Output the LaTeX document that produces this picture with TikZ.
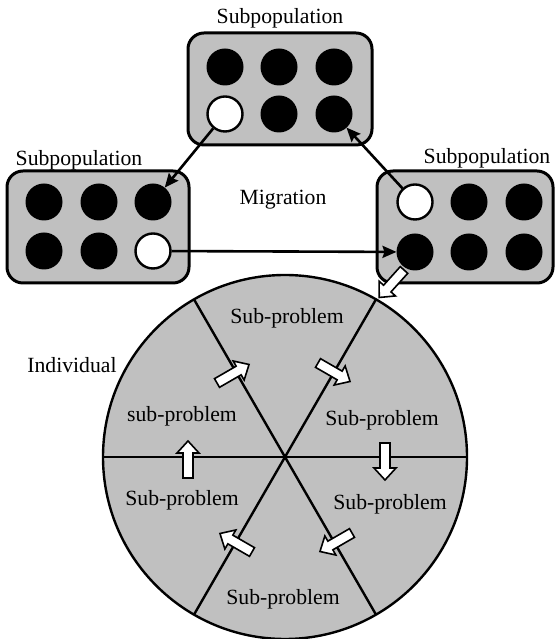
\documentclass[tikz,border=0pt]{standalone}
\usepackage{fontspec}
\setmainfont{Liberation Serif}
\usetikzlibrary{arrows.meta}

\definecolor{panel}{HTML}{C0C0C0}

\tikzset{
  every node/.style={font=\fontsize{21.7}{26}\selectfont},
  box/.style={draw=black, fill=panel, line width=3pt, rounded corners=16pt,
              minimum width=#1, minimum height=112pt, inner sep=0pt, outer sep=0pt},
  dot/.style={circle, fill=black, minimum size=37pt, inner sep=0pt, outer sep=0pt},
  hollowdot/.style={circle, draw=black, fill=white, line width=2.4pt,
                    minimum size=35pt, inner sep=0pt, outer sep=1.2pt},
  mig/.style={line width=2.6pt, -{Stealth[length=14pt,width=12pt,inset=2pt]}},
  spoke/.style={line width=2.4pt},
  arrowbody/.style={draw=black, fill=white, line width=1.6pt, line join=miter},
  pics/flowarrow/.style={code={
    \draw[arrowbody] (0,-5) -- (25,-5) -- (25,-11) -- (37,0) -- (25,11) -- (25,5) -- (0,5) -- cycle;
  }}
}

\begin{document}
\begin{tikzpicture}[x=1pt,y=1pt]
\useasboundingbox (0,0) rectangle (555,639);

% ---- the wheel of sub-problems ----
\node[circle, draw=black, fill=panel, line width=2.4pt, minimum size=364pt,
      inner sep=0pt, outer sep=0pt] (wheel) at (285,182) {};
\draw[spoke] (wheel.0)   -- (wheel.180);
\draw[spoke] (wheel.60)  -- (wheel.240);
\draw[spoke] (wheel.120) -- (wheel.300);

\node (sp1) at (287,321) {Sub-problem};
\node (sp2) at (382,219) {Sub-problem};
\node (sp3) at (390,135) {Sub-problem};
\node (sp4) at (283,40)  {Sub-problem};
\node (sp5) at (182,139) {Sub-problem};
\node (sp6) at (182,223) {sub-problem};

% arrows passing from one sub-problem to the next
\pic[rotate=30]  at (217,256) {flowarrow};
\pic[rotate=-30] at (318,276) {flowarrow};
\pic[rotate=-90] at (385,196) {flowarrow};
\pic[rotate=210] at (352,106) {flowarrow};
\pic[rotate=150] at (252,87)  {flowarrow};
\pic[rotate=90]  at (188,161) {flowarrow};

\node (indiv) at (72,274) {Individual};

% ---- three subpopulations ----
\node[box=184pt] (topbox) at (280,550) {};
\node (toplab) at (280,621) {Subpopulation};
\node[dot] (t1) at (225,572) {};
\node[dot] (t2) at (279,572) {};
\node[dot] (t3) at (334,572) {};
\node[hollowdot] (t4) at (225,525) {};
\node[dot] (t5) at (279,525) {};
\node[dot] (t6) at (334,525) {};

\node[box=182pt] (leftbox) at (98,412) {};
\node (leftlab) at (79,479) {Subpopulation};
\node[dot] (l1) at (44,437) {};
\node[dot] (l2) at (99,437) {};
\node[dot] (l3) at (153,437) {};
\node[dot] (l4) at (44,388) {};
\node[dot] (l5) at (99,388) {};
\node[hollowdot] (l6) at (153,388) {};

\node[box=176pt] (rightbox) at (465,412) {};
\node (rightlab) at (487,481) {Subpopulation};
\node[hollowdot] (r1) at (415,437) {};
\node[dot] (r2) at (469,437) {};
\node[dot] (r3) at (524,437) {};
\node[dot] (r4) at (415,387) {};
\node[dot] (r5) at (469,387) {};
\node[dot] (r6) at (524,387) {};

\node (miglab) at (283,439) {Migration};

% migration between subpopulations
\draw[mig] (t4) -- (l3);
\draw[mig] (r1) -- (t6);
\draw[mig] (l6) -- (r4);

% individual handed to the wheel
\pic[rotate=228] at (404,369) {flowarrow};
\end{tikzpicture}
\end{document}
